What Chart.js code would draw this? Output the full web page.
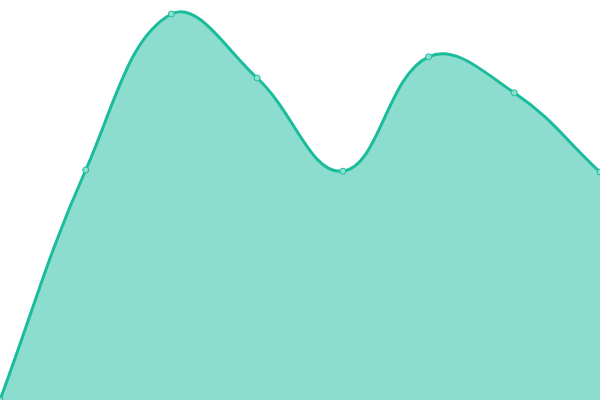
<!DOCTYPE html>
<html>
<head>
<meta charset="utf-8">
<script src="https://cdn.jsdelivr.net/npm/chart.js@4/dist/chart.umd.min.js"></script>
<style>
    html, body { margin: 0; padding: 0; background: #fff; }
    #wrap { width: 600px; height: 400px; }
</style>
</head>
<body>
<div id="wrap"><canvas id="chart"></canvas></div>
<script>
// Données
const labels = ['1', '2', '3', '4', '5', '6', '7', '8'];
const valeurs = [0, 57.5, 96.5, 80.5, 57.2, 85.8, 76.8, 57];

const ctx = document.getElementById('chart').getContext('2d');
new Chart(ctx, {
    type: 'line',
    data: {
        labels: labels,
        datasets: [{
            data: valeurs,
            borderColor: '#1abc9c',
            backgroundColor: 'rgba(26, 188, 156, 0.5)',
            borderWidth: 3,
            fill: true,
            tension: 0.4,
            pointRadius: 3,
            pointBorderWidth: 1,
            pointBackgroundColor: '#8ddfcf',
            pointBorderColor: '#1abc9c'
        }]
    },
    options: {
        responsive: true,
        maintainAspectRatio: false,
        animation: false,
        layout: { padding: 0, autoPadding: false },
        plugins: {
            legend: { display: false },
            tooltip: { enabled: false }
        },
        scales: {
            x: { display: false },
            y: { display: false, min: 0, max: 100 }
        }
    }
});
</script>
</body>
</html>
